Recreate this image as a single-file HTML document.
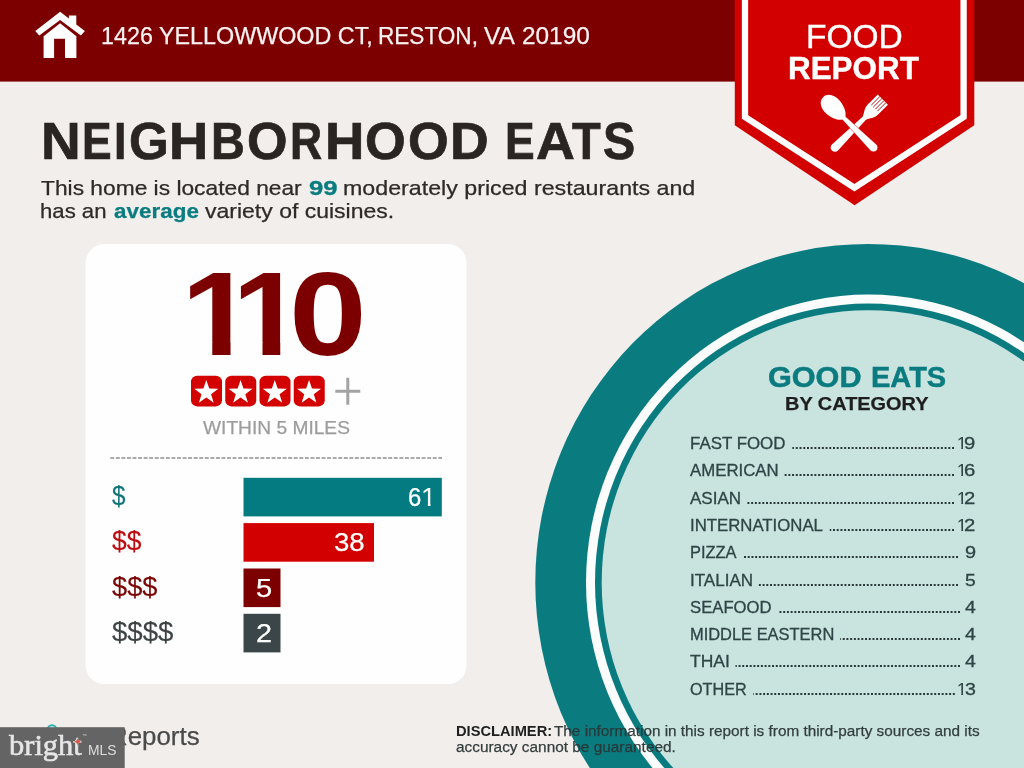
<!DOCTYPE html>
<html lang="en">
<head>
<meta charset="utf-8">
<title>Food Report - Neighborhood Eats</title>
<style>
html,body{margin:0;padding:0;}
body{width:1024px;height:768px;overflow:hidden;background:#f2eeeb;font-family:"Liberation Sans",sans-serif;}
#page{position:relative;width:1024px;height:768px;overflow:hidden;background:#f2eeeb;}
#page svg{position:absolute;left:0;top:0;}
.t{position:absolute;white-space:nowrap;line-height:1;font-family:"Liberation Sans",sans-serif;}
.t span{display:inline-block;transform-origin:0 0;line-height:1;}
.li{font-size:16.4px;color:#2f4446;-webkit-text-stroke:0.3px;}
</style>
</head>
<body>
<div id="page">
<svg width="1024" height="768" viewBox="0 0 1024 768">
<rect x="0" y="0" width="1024" height="81.6" fill="#7d0000"/>
<ellipse cx="868.3" cy="582.4" rx="333" ry="338.5" fill="#0a7c80"/>
<ellipse cx="868.3" cy="582.4" rx="282.3" ry="287.8" fill="#fbfdfc"/>
<ellipse cx="868.3" cy="582.4" rx="273.3" ry="278.8" fill="#0a7c80"/>
<ellipse cx="868.3" cy="582.4" rx="266.6" ry="272.1" fill="#c9e3df"/>
<path d="M734.8 0H974.3V125.2L854.6 205.3L734.8 125.2Z" fill="#d30000"/>
<path d="M745 -5V117L854.4 187.7L963.6 117V-5" fill="none" stroke="#fff" stroke-width="6.3"/>
<g fill="#fff">
<g transform="translate(854.2 128.3) rotate(45)">
<path d="M-2.2 -16 L-4.3 27.2 A4.3 4.3 0 0 0 4.3 27.2 L2.2 -16Z"/>
<path d="M-7.2 -40.5 H7.2 V-27 C7.2 -20.5 3.6 -18.5 2.4 -14.5 H-2.4 C-3.6 -18.5 -7.2 -20.5 -7.2 -27Z"/>
<path d="M-4.3 -40.5V-28.5M-1.45 -40.5V-28.5M1.45 -40.5V-28.5M4.3 -40.5V-28.5" stroke="#a61010" stroke-width="0.9" fill="none"/>
</g>
<g transform="translate(854.2 128.3) rotate(-45)">
<path d="M-2.2 -16 L-4.3 27.2 A4.3 4.3 0 0 0 4.3 27.2 L2.2 -16Z" stroke="#c00000" stroke-opacity=".55" stroke-width="0.8"/>
<path d="M0 -44 C6.3 -44 9.7 -37.5 9.3 -30 C8.9 -22.5 4.6 -14 0 -14 C-4.6 -14 -8.9 -22.5 -9.3 -30 C-9.7 -37.5 -6.3 -44 0 -44Z"/>
</g>
</g>
<g fill="#fff">
<path d="M60.1 11.7L35.3 31.1L39.3 35.6L60.1 19.9L80.9 35.6L84.9 31.1L76.3 24.4V15.6H68.9V18.6Z"/>
<path d="M60.1 23.2L43.6 36.2V57.9H54.1V38.8H65V57.9H76.4V36.2Z"/>
</g>
<rect x="85.7" y="244.1" width="380.8" height="440" rx="18.5" fill="#fefefe"/>
<rect x="191" y="375.8" width="31" height="30.6" rx="6.2" fill="#d40101"/>
<polygon points="206.3,380 209.24,388.55 218.28,388.71 211.06,394.15 213.71,402.79 206.3,397.6 198.89,402.79 201.54,394.15 194.32,388.71 203.36,388.55" fill="#fff"/>
<rect x="225.25" y="375.8" width="31" height="30.6" rx="6.2" fill="#d40101"/>
<polygon points="240.55,380 243.49,388.55 252.53,388.71 245.31,394.15 247.96,402.79 240.55,397.6 233.14,402.79 235.79,394.15 228.57,388.71 237.61,388.55" fill="#fff"/>
<rect x="259.5" y="375.8" width="31" height="30.6" rx="6.2" fill="#d40101"/>
<polygon points="274.8,380 277.74,388.55 286.78,388.71 279.56,394.15 282.21,402.79 274.8,397.6 267.39,402.79 270.04,394.15 262.82,388.71 271.86,388.55" fill="#fff"/>
<rect x="293.75" y="375.8" width="31" height="30.6" rx="6.2" fill="#d40101"/>
<polygon points="309.05,380 311.99,388.55 321.03,388.71 313.81,394.15 316.46,402.79 309.05,397.6 301.64,402.79 304.29,394.15 297.07,388.71 306.11,388.55" fill="#fff"/>
<path d="M335.3 391.3H360.3M347.8 377.8V404.8" stroke="#a3a3a3" stroke-width="3" fill="none"/>
<path d="M110.3 458H442" stroke="#8e8e8e" stroke-width="1.5" stroke-dasharray="3.9 1.66" fill="none"/>
<rect x="243.5" y="477.8" width="198.3" height="38.6" fill="#047b80"/>
<rect x="243.5" y="523.1" width="130.5" height="38.6" fill="#d30000"/>
<rect x="243.5" y="568.5" width="37" height="38.6" fill="#7d0000"/>
<rect x="243.5" y="613.8" width="37" height="38.6" fill="#3a4647"/>
<path d="M954 448H792.4" stroke="#263637" stroke-width="1.9" stroke-dasharray="1.95 1.77" fill="none"/>
<path d="M954 475H784.55" stroke="#263637" stroke-width="1.9" stroke-dasharray="1.95 1.77" fill="none"/>
<path d="M954 503H747" stroke="#263637" stroke-width="1.9" stroke-dasharray="1.95 1.77" fill="none"/>
<path d="M954 530H829.8" stroke="#263637" stroke-width="1.9" stroke-dasharray="1.95 1.77" fill="none"/>
<path d="M958 557H743.9" stroke="#263637" stroke-width="1.9" stroke-dasharray="1.95 1.77" fill="none"/>
<path d="M958 585H758.9" stroke="#263637" stroke-width="1.9" stroke-dasharray="1.95 1.77" fill="none"/>
<path d="M960 612H778.3" stroke="#263637" stroke-width="1.9" stroke-dasharray="1.95 1.77" fill="none"/>
<path d="M960 639H840.2" stroke="#263637" stroke-width="1.9" stroke-dasharray="1.95 1.77" fill="none"/>
<path d="M960 666H735.5" stroke="#263637" stroke-width="1.9" stroke-dasharray="1.95 1.77" fill="none"/>
<path d="M954.8 694H753.3" stroke="#263637" stroke-width="1.9" stroke-dasharray="1.95 1.77" fill="none"/>
<circle cx="52" cy="729.6" r="4.4" fill="none" stroke="#2ab3b0" stroke-width="2"/>
</svg>
<div class="t" style="left:101.04px;top:24.1px;font-size:24.5px;color:#fbf3f3;"><span style="transform:scaleX(0.9520);-webkit-text-stroke:0.25px;">1426 YELLOWWOOD CT,</span> <span style="margin-left:-15.83px;transform:scaleX(0.9216);-webkit-text-stroke:0.25px;">RESTON,</span> <span style="margin-left:-9.2px;transform:scaleX(1.0005);-webkit-text-stroke:0.25px;">VA</span> <span style="margin-left:0.39px;transform:scaleX(0.9952);-webkit-text-stroke:0.25px;">20190</span></div>
<div class="t" style="left:40.66px;top:115.1px;font-size:52.2px;color:#2a2522;font-weight:700;-webkit-text-stroke:0.7px;"><span style="transform:scaleX(1.0551);font-weight:700;">N</span><span style="margin-left:3.27px;transform:scaleX(0.8516);font-weight:700;">E</span><span style="margin-left:-2.04px;transform:scaleX(0.8582);font-weight:700;">I</span><span style="margin-left:0.2px;transform:scaleX(0.9808);font-weight:700;">G</span><span style="margin-left:-0.6px;transform:scaleX(1.0421);font-weight:700;">H</span><span style="margin-left:3.77px;transform:scaleX(0.8981);font-weight:700;">B</span><span style="margin-left:-1.6px;transform:scaleX(0.9995);font-weight:700;">O</span><span style="margin-left:2.35px;transform:scaleX(0.8523);font-weight:700;">R</span><span style="margin-left:-2.73px;transform:scaleX(1.0454);font-weight:700;">H</span><span style="margin-left:3.08px;transform:scaleX(1.0035);font-weight:700;">O</span><span style="margin-left:1.9px;transform:scaleX(1.0035);font-weight:700;">O</span><span style="margin-left:1.78px;transform:scaleX(1.0268);font-weight:700;">D</span> <span style="margin-left:2.27px;transform:scaleX(0.8516);font-weight:700;">E</span><span style="margin-left:-3.78px;transform:scaleX(1.0310);font-weight:700;">A</span><span style="margin-left:-0.96px;transform:scaleX(0.9007);font-weight:700;">T</span><span style="margin-left:-1.04px;transform:scaleX(0.9257);font-weight:700;">S</span></div>
<div class="t" style="left:40.89px;top:178.1px;font-size:20.4px;color:#2e2a28;"><span style="transform:scaleX(1.1166);-webkit-text-stroke:0.25px;">This home is located near</span> <span style="margin-left:29.05px;transform:scaleX(1.2578);font-weight:700;color:#0a7c80;-webkit-text-stroke:0.35px;">99</span> <span style="margin-left:5.29px;transform:scaleX(1.1385);-webkit-text-stroke:0.25px;">moderately priced restaurants and</span></div>
<div class="t" style="left:40.22px;top:201.1px;font-size:20.4px;color:#2e2a28;"><span style="transform:scaleX(1.0862);-webkit-text-stroke:0.25px;">has an</span> <span style="margin-left:6.42px;transform:scaleX(1.1009);font-weight:700;color:#0a7c80;-webkit-text-stroke:0.25px;">average</span> <span style="margin-left:9.06px;transform:scaleX(1.1280);-webkit-text-stroke:0.25px;">variety of cuisines.</span></div>
<div class="t" style="left:180.59px;top:255.1px;font-size:118.5px;color:#7d0000;"><span style="transform:scaleX(1.1308);font-weight:700;clip-path:polygon(0 0,43.95px 0,43.95px 100%,27.66px 100%,27.66px 86.81px,0 86.81px);">1</span><span style="margin-left:-14.43px;transform:scaleX(1.1029);font-weight:700;clip-path:polygon(0 0,43.95px 0,43.95px 100%,27.66px 100%,27.66px 86.81px,0 86.81px);">1</span><span style="margin-left:-9.09px;transform:scaleX(1.1803);font-weight:700;">0</span></div>
<div class="t" style="left:202.8px;top:419.1px;font-size:18.9px;color:#9c9c9c;"><span style="transform:scaleX(1.0144);-webkit-text-stroke:0.25px;">WITHIN 5 MILES</span></div>
<div class="t" style="left:112px;top:481.1px;font-size:28.2px;color:#0f7577;"><span style="transform:scaleX(0.8559);-webkit-text-stroke:0.15px;">$</span></div>
<div class="t" style="left:112px;top:526.1px;font-size:28.2px;color:#bd0d12;"><span style="transform:scaleX(0.9387);-webkit-text-stroke:0.15px;">$$</span></div>
<div class="t" style="left:112px;top:572.1px;font-size:28.2px;color:#7a0606;"><span style="transform:scaleX(0.9660);-webkit-text-stroke:0.15px;">$$$</span></div>
<div class="t" style="left:112px;top:617.1px;font-size:28.2px;color:#3d4343;"><span style="transform:scaleX(0.9796);-webkit-text-stroke:0.15px;">$$$$</span></div>
<div class="t" style="left:408.18px;top:485.1px;font-size:25.8px;color:#fff;"><span style="transform:scaleX(0.9261);-webkit-text-stroke:0.25px;">6</span><span style="margin-left:-1.21px;transform:scaleX(1.0817);-webkit-text-stroke:0.13px;clip-path:polygon(0 0,8.91px 0,8.91px 100%,6.36px 100%,6.36px 17.84px,0 17.84px);">1</span></div>
<div class="t" style="left:334.14px;top:530.1px;font-size:25.8px;color:#fff;"><span style="transform:scaleX(1.0691);-webkit-text-stroke:0.25px;">38</span></div>
<div class="t" style="left:255.89px;top:576.1px;font-size:25.8px;color:#fff;"><span style="transform:scaleX(1.1283);-webkit-text-stroke:0.25px;">5</span></div>
<div class="t" style="left:255.65px;top:621.1px;font-size:25.8px;color:#fff;"><span style="transform:scaleX(1.1163);-webkit-text-stroke:0.25px;">2</span></div>
<div class="t" style="left:805.98px;top:21.1px;font-size:32.5px;color:#fff;"><span style="transform:scaleX(1.0309);-webkit-text-stroke:0.4px;">FOOD</span></div>
<div class="t" style="left:788.44px;top:52.1px;font-size:32px;color:#fff;"><span style="transform:scaleX(0.9810);font-weight:700;-webkit-text-stroke:0.4px;">REPORT</span></div>
<div class="t" style="left:768.14px;top:363.1px;font-size:29px;color:#0a7c80;"><span style="transform:scaleX(1.0553);font-weight:700;-webkit-text-stroke:0.5px;">GOOD</span> <span style="margin-left:6.47px;transform:scaleX(0.9998);font-weight:700;-webkit-text-stroke:0.5px;">EATS</span></div>
<div class="t" style="left:785.25px;top:394.1px;font-size:19.2px;color:#1e1e1e;"><span style="transform:scaleX(1.0381);font-weight:700;-webkit-text-stroke:0.25px;">BY CATEGORY</span></div>
<div class="t li" style="left:690.3px;top:435.1px;"><span style="transform:scaleX(1.0306);">FAST FOOD</span> <span style="margin-left:169.61px;transform:scaleX(1.0761);-webkit-text-stroke:0.15px;clip-path:polygon(0 0,5.73px 0,5.73px 100%,3.97px 100%,3.97px 11.52px,0 11.52px);">1</span><span style="margin-left:-2.07px;transform:scaleX(1.2358);">9</span></div>
<div class="t li" style="left:690.3px;top:462.1px;"><span style="transform:scaleX(1.0249);">AMERICAN</span> <span style="margin-left:175.98px;transform:scaleX(1.0761);-webkit-text-stroke:0.15px;clip-path:polygon(0 0,5.73px 0,5.73px 100%,3.97px 100%,3.97px 11.52px,0 11.52px);">1</span><span style="margin-left:-2.07px;transform:scaleX(1.2358);">6</span></div>
<div class="t li" style="left:690.3px;top:490.1px;"><span style="transform:scaleX(1.0401);">ASIAN</span> <span style="margin-left:213.33px;transform:scaleX(1.0761);-webkit-text-stroke:0.15px;clip-path:polygon(0 0,5.73px 0,5.73px 100%,3.97px 100%,3.97px 11.52px,0 11.52px);">1</span><span style="margin-left:-2.07px;transform:scaleX(1.2358);">2</span></div>
<div class="t li" style="left:690.3px;top:517.1px;"><span style="transform:scaleX(1.0232);">INTERNATIONAL</span> <span style="margin-left:132.55px;transform:scaleX(1.0761);-webkit-text-stroke:0.15px;clip-path:polygon(0 0,5.73px 0,5.73px 100%,3.97px 100%,3.97px 11.52px,0 11.52px);">1</span><span style="margin-left:-2.07px;transform:scaleX(1.2358);">2</span></div>
<div class="t li" style="left:690.3px;top:544.1px;"><span style="transform:scaleX(1.0032);">PIZZA</span> <span style="margin-left:223.49px;transform:scaleX(1.2163);">9</span></div>
<div class="t li" style="left:690.3px;top:572.1px;"><span style="transform:scaleX(1.0384);">ITALIAN</span> <span style="margin-left:209.54px;transform:scaleX(1.1770);">5</span></div>
<div class="t li" style="left:690.3px;top:599.1px;"><span style="transform:scaleX(1.0186);">SEAFOOD</span> <span style="margin-left:189.75px;transform:scaleX(1.1826);">4</span></div>
<div class="t li" style="left:690.3px;top:626.1px;"><span style="transform:scaleX(1.0025);">MIDDLE EASTERN</span> <span style="margin-left:125.96px;transform:scaleX(1.1826);">4</span></div>
<div class="t li" style="left:690.3px;top:653.1px;"><span style="transform:scaleX(1.0676);">THAI</span> <span style="margin-left:232.58px;transform:scaleX(1.1826);">4</span></div>
<div class="t li" style="left:690.3px;top:681.1px;"><span style="transform:scaleX(0.9871);">OTHER</span> <span style="margin-left:205.15px;transform:scaleX(1.0761);-webkit-text-stroke:0.15px;clip-path:polygon(0 0,5.73px 0,5.73px 100%,3.97px 100%,3.97px 11.52px,0 11.52px);">1</span><span style="margin-left:-1.74px;transform:scaleX(1.1959);">3</span></div>
<div class="t" style="left:455.68px;top:723.1px;font-size:15.3px;color:#2a3535;"><span style="transform:scaleX(0.9585);font-weight:700;color:#1f1f1f;">DISCLAIMER:</span> <span style="margin-left:-5.97px;transform:scaleX(1.0013);-webkit-text-stroke:0.25px;opacity:.95;">The information in this report is from third-party sources and its</span></div>
<div class="t" style="left:455.92px;top:739.1px;font-size:15.3px;color:#2a3535;"><span style="transform:scaleX(1.0058);-webkit-text-stroke:0.25px;opacity:.95;">accuracy cannot be guaranteed.</span></div>
<div class="t" style="left:109.48px;top:724.1px;font-size:25.6px;color:#4a4a4a;"><span style="transform:scaleX(1.0105);-webkit-text-stroke:0.25px;">Reports</span></div>
<svg width="1024" height="768" viewBox="0 0 1024 768">
<rect x="105" y="724" width="19.7" height="4" fill="#f2eeeb"/>
<rect x="0" y="727.2" width="124.7" height="41" fill="#646464"/>
</svg>
<div class="t" style="left:9.2px;top:730.1px;font-size:30px;font-family:'Liberation Serif',serif;color:#e6e6e6;"><span style="transform:scaleX(1.0158);-webkit-text-stroke:0.6px;">bright</span></div>
<div class="t" style="left:88.12px;top:743.1px;font-size:14.4px;color:#dedede;"><span style="transform:scaleX(0.9613);">MLS</span></div>
<div class="t" style="left:82.3px;top:733.5px;font-size:4.5px;color:#dcdcdc;">™</div>
<svg width="1024" height="768" viewBox="0 0 1024 768"><path d="M77.6 738.3l1.1 2.3 2.3 1.1-2.3 1.1-1.1 2.3-1.1-2.3-2.3-1.1 2.3-1.1z" fill="#e4553f"/></svg>
</div>
</body>
</html>
